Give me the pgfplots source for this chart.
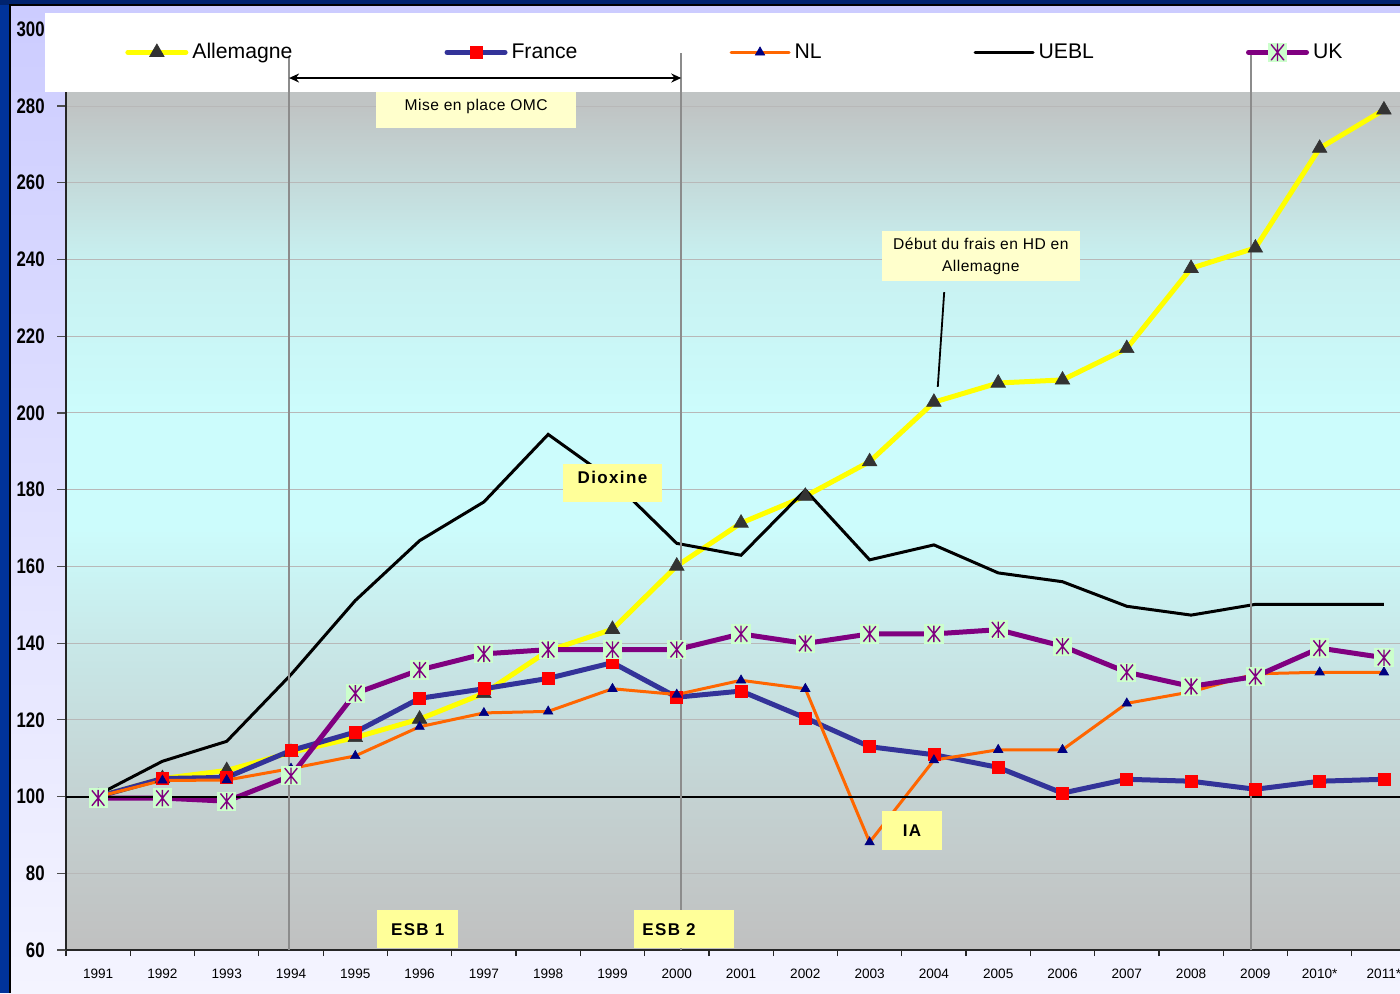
\documentclass[border=0pt]{standalone}
\usepackage{pgfplots}
\pgfplotsset{compat=1.18}
\usepackage{fontspec}
\setmainfont{Liberation Sans}
\newfontfamily\ynumfont[FakeStretch=0.8]{Liberation Sans}
\usetikzlibrary{arrows.meta}

\definecolor{navyb}{HTML}{00339A}
\definecolor{navyt}{HTML}{00236E}
\definecolor{lavtop}{HTML}{CCCCFF}
\definecolor{lavbot}{HTML}{F4F4FF}
\definecolor{deu}{HTML}{FFFF00}
\definecolor{markgrey}{HTML}{333333}
\definecolor{fra}{HTML}{333399}
\definecolor{frared}{HTML}{FF0000}
\definecolor{nlor}{HTML}{FF6600}
\definecolor{nlnavy}{HTML}{000080}
\definecolor{ukpurple}{HTML}{800080}
\definecolor{ukgreen}{HTML}{CCFFCC}
\definecolor{boxpale}{HTML}{FFFFCC}
\definecolor{boxyel}{HTML}{FFFF99}
\definecolor{vline}{HTML}{8C8C8C}
\definecolor{bgA}{HTML}{C0C0C0}
\definecolor{bgB}{HTML}{C4D2D2}
\definecolor{bgC}{HTML}{C8E8E8}
\definecolor{bgD}{HTML}{CCFCFC}
\definecolor{bgE}{HTML}{CCFCFC}
\definecolor{bgF}{HTML}{C8F0F0}
\definecolor{bgG}{HTML}{C0C4C4}

\pgfdeclareverticalshading{plotbg}{100bp}{color(0bp)=(bgA); color(25bp)=(bgA); color(33.3bp)=(bgB); color(41.7bp)=(bgC); color(47.9bp)=(bgD); color(54.2bp)=(bgE); color(62.5bp)=(bgF); color(70.8bp)=(bgG); color(75bp)=(bgG); color(100bp)=(bgG)}

\pgfdeclareplotmark{ukmark}{%
  \pgfpathrectangle{\pgfqpoint{-\pgfplotmarksize}{-\pgfplotmarksize}}{\pgfqpoint{2\pgfplotmarksize}{2\pgfplotmarksize}}%
  \pgfsetfillcolor{ukgreen}\pgfusepath{fill}%
  \pgfsetstrokecolor{ukpurple}\pgfsetlinewidth{0.7pt}%
  \pgfpathmoveto{\pgfqpoint{0pt}{-0.85\pgfplotmarksize}}\pgfpathlineto{\pgfqpoint{0pt}{0.85\pgfplotmarksize}}%
  \pgfpathmoveto{\pgfqpoint{-0.65\pgfplotmarksize}{-0.8\pgfplotmarksize}}\pgfpathlineto{\pgfqpoint{0.65\pgfplotmarksize}{0.8\pgfplotmarksize}}%
  \pgfpathmoveto{\pgfqpoint{-0.65\pgfplotmarksize}{0.8\pgfplotmarksize}}\pgfpathlineto{\pgfqpoint{0.65\pgfplotmarksize}{-0.8\pgfplotmarksize}}%
  \pgfusepath{stroke}}

\begin{document}
\begin{tikzpicture}
\useasboundingbox (0,0) rectangle (700pt,496.5pt);
\shade[top color=lavtop, bottom color=lavbot] (0,0) rectangle (700pt,494pt);
\fill[navyt] (0,494pt) rectangle (700pt,496.5pt);
\fill[navyb] (0,0) rectangle (5pt,494pt);
\draw[black, line width=0.6pt] (5pt,0) -- (5pt,494pt) -- (700pt,494pt);

\begin{axis}[
  scale only axis, width=667pt, height=460.35pt,
  at={(33pt,21.5pt)}, anchor=south west,
  xmin=-0.5, xmax=20.25, ymin=60, ymax=300,
  clip=false,
  axis background/.style={shading=plotbg},
  axis x line*=bottom, axis y line*=left,
  axis line style={-, black!85, line width=0.9pt},
  tick align=outside,
  xtick={0,...,20},
  xticklabels={1991,1992,1993,1994,1995,1996,1997,1998,1999,2000,2001,2002,2003,2004,2005,2006,2007,2008,2009,2010*,2011*},
  minor xtick={-0.5,0.5,...,19.5},
  major x tick style={draw=none},
  minor x tick style={black!85, line width=0.6pt},
  minor tick length=3pt,
  major tick length=4.5pt,
  ytick={60,80,...,300},
  y tick style={black!70, line width=0.6pt},
  ymajorgrids,
  grid style={black!28, line width=0.5pt},
  /pgf/number format/assume math mode=true,
  yticklabel style={font=\ynumfont\bfseries\fontsize{10.5}{12}\selectfont, inner sep=0pt},
  yticklabel shift=6pt,
  xticklabel style={font=\fontsize{6.8}{8}\selectfont, inner sep=0pt},
  xticklabel shift=5pt,
  legend columns=5,
  legend style={at={(0.0442,0.9750)}, anchor=west, draw=none, fill=none, inner sep=0pt,
    font=\fontsize{10.6}{12}\selectfont,
    /tikz/every even column/.append style={column sep=74pt}},
  legend image code/.code={\draw[mark repeat=2,mark phase=2,line cap=round,#1] plot coordinates {(0pt,0pt) (14.5pt,0pt) (29pt,0pt)};},
]
% white legend band
\fill[white] (axis cs:-0.83,304.2) rectangle (axis cs:21.5,283.6);

\addplot[deu, line width=2.5pt, mark=triangle*, mark size=4.2pt,
  mark options={fill=markgrey, draw=markgrey, line width=0.3pt}]
 coordinates {(0,100) (1,104.7) (2,106.8) (3,111.5) (4,115.4) (5,120.2) (6,126.9) (7,138) (8,143.6) (9,160.1) (10,171.3) (11,178.3) (12,187.3) (13,202.8) (14,207.8) (15,208.6) (16,216.8) (17,237.7) (18,243) (19,269) (20,279)};
\addplot[fra, line width=2.5pt, mark=square*, mark size=3pt,
  mark options={fill=frared, draw=frared, line width=0.3pt}]
 coordinates {(0,100) (1,104.7) (2,105) (3,112) (4,116.8) (5,125.6) (6,128.1) (7,130.8) (8,134.9) (9,125.9) (10,127.5) (11,120.5) (12,113) (13,110.9) (14,107.6) (15,100.9) (16,104.5) (17,104) (18,101.9) (19,104) (20,104.5)};
\addplot[nlor, line width=1.5pt, mark=triangle*, mark size=2.7pt,
  mark options={fill=nlnavy, draw=nlnavy, line width=0.3pt}]
 coordinates {(0,100) (1,104.2) (2,104.3) (3,107.3) (4,110.6) (5,118.2) (6,121.8) (7,122.2) (8,128.1) (9,126.6) (10,130.3) (11,128.1) (12,88.1) (13,109.5) (14,112.2) (15,112.2) (16,124.3) (17,127.3) (18,132) (19,132.4) (20,132.4)};
\addplot[black, line width=1.5pt, no markers]
 coordinates {(0,100.5) (1,109.2) (2,114.4) (3,131.8) (4,151.1) (5,166.7) (6,176.8) (7,194.4) (8,182.4) (9,166) (10,162.9) (11,179.9) (12,161.7) (13,165.6) (14,158.3) (15,156) (16,149.6) (17,147.3) (18,150.1) (19,150.1) (20,150.1)};
\addplot[ukpurple, line width=2.5pt, mark=ukmark, mark size=4.8pt]
 coordinates {(0,99.6) (1,99.6) (2,98.8) (3,105.4) (4,126.9) (5,133) (6,137.2) (7,138.3) (8,138.3) (9,138.3) (10,142.4) (11,139.9) (12,142.4) (13,142.4) (14,143.5) (15,139.2) (16,132.4) (17,128.7) (18,131.3) (19,138.7) (20,136.2)};
\legend{Allemagne,France,NL,UEBL,UK}

% reference line at 100
\draw[black, line width=1pt] (axis cs:-0.5,100) -- (axis cs:20.25,100);

% vertical event lines
\draw[vline, line width=1pt] (axis cs:2.97,292.8) -- (axis cs:2.97,60);
\draw[vline, line width=1pt] (axis cs:9.07,293.8) -- (axis cs:9.07,60);
\draw[vline, line width=1pt] (axis cs:17.93,294.3) -- (axis cs:17.93,60);
\draw[black, line width=0.9pt, {Stealth[length=5pt,width=4.5pt]}-{Stealth[length=5pt,width=4.5pt]}] (axis cs:2.97,287.3) -- (axis cs:9.07,287.3);

% annotation boxes
\node[fill=boxpale, minimum width=100pt, minimum height=18pt, inner sep=0pt] at (axis cs:5.88,278.95) {};
\node[font=\fontsize{7.8}{9}\selectfont\addfontfeature{LetterSpace=3}] at (axis cs:5.88,279.9) {Mise en place OMC};

\node[fill=boxyel, minimum width=49.5pt, minimum height=19pt, inner sep=0pt] at (axis cs:8.0,181.7) {};
\node[font=\fontsize{8.5}{10}\bfseries\addfontfeature{LetterSpace=8}] at (axis cs:8.0,183.2) {Dioxine};

\node[fill=boxpale, minimum width=99pt, minimum height=25pt, inner sep=0pt] at (axis cs:13.73,240.9) {};
\node[font=\fontsize{7.8}{11}\selectfont\addfontfeature{LetterSpace=3}, align=center] at (axis cs:13.73,240.8) {Début du frais en HD en\\Allemagne};
\draw[black, line width=0.9pt] (axis cs:13.16,231.5) -- (axis cs:13.06,206.8);

\node[fill=boxyel, minimum width=30pt, minimum height=19.5pt, inner sep=0pt] at (axis cs:12.66,91.05) {};
\node[font=\fontsize{8.5}{10}\bfseries\addfontfeature{LetterSpace=8}] at (axis cs:12.66,91.2) {IA};

\node[fill=boxyel, minimum width=40.5pt, minimum height=19pt, inner sep=0pt] at (axis cs:4.97,65.35) {};
\node[font=\fontsize{8.5}{10}\bfseries\addfontfeature{LetterSpace=8}] at (axis cs:4.97,65.4) {ESB 1};
\node[fill=boxyel, minimum width=50pt, minimum height=19pt, inner sep=0pt] at (axis cs:9.11,65.35) {};
\node[font=\fontsize{8.5}{10}\bfseries\addfontfeature{LetterSpace=8}] at (axis cs:8.88,65.4) {ESB 2};
\end{axis}
\end{tikzpicture}
\end{document}
